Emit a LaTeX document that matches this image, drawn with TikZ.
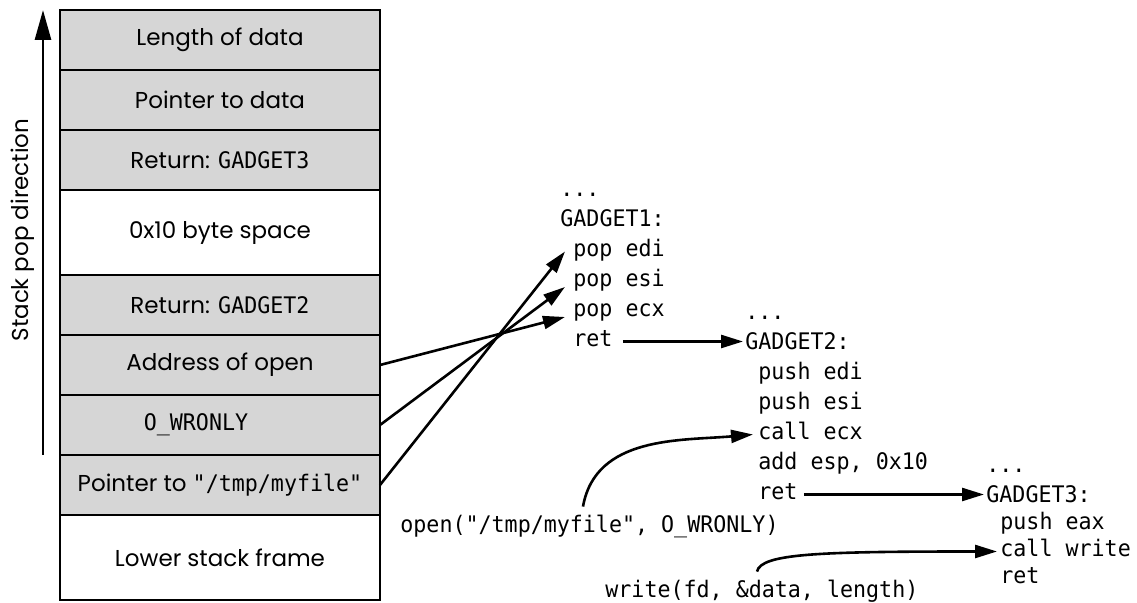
\documentclass[tikz,border=0pt]{standalone}
\usepackage{fontspec}
\usepackage{xcolor}
\usepackage{tikz}
\usetikzlibrary{arrows.meta, positioning}
\newfontfamily\geofam{Poppins}
\newfontfamily\monofam[FakeStretch=0.95]{DejaVu Sans Mono}
\newcommand{\rowfnt}{\geofam\fontsize{11.5}{13}\selectfont}
\newcommand{\codefnt}{\monofam\fontsize{11.4}{13}\selectfont}
\definecolor{cellgray}{gray}{0.84}

\begin{document}
\begin{tikzpicture}[
      x=0.5pt, y=-0.5pt,
      cell/.style={draw, line width=1.4pt, fill=cellgray, minimum width=160pt,
                   minimum height=30pt, inner sep=0pt, outer sep=0pt, font=\rowfnt},
      tallcell/.style={cell, minimum height=42.5pt},
      blank/.style={fill=white},
      code/.style={font=\codefnt, anchor=base west, inner sep=0pt,
                   text height=8pt, text depth=2.5pt},
      arr/.style={-{Triangle[length=11pt, width=6.5pt]}, line width=1.3pt},
      bigarr/.style={-{Triangle[length=15pt, width=8pt]}, line width=1.4pt}
    ]
    \useasboundingbox (0,0) rectangle (1137,603);

    % the stack
    \node[cell, anchor=north west] (len) at (60,10) {Length of data};
    \node[cell, below=0pt of len] (ptr) {Pointer to data};
    \node[cell, below=0pt of ptr] (retg3) {Return: {\codefnt GADGET3}};
    \node[tallcell, blank, below=0pt of retg3] (space) {0x10 byte space};
    \node[cell, below=0pt of space] (retg2) {Return: {\codefnt GADGET2}};
    \node[cell, below=0pt of retg2] (openaddr) {Address of open};
    \node[cell, below=0pt of openaddr] (flags) {{\codefnt O\_WRONLY}\kern24pt};
    \node[cell, below=0pt of flags] (path) {Pointer to {\codefnt "/tmp/myfile"}};
    \node[tallcell, blank, below=0pt of path] (lower) {Lower stack frame};

    \coordinate (popbot) at (43,455);
    \coordinate (poptop) at (43,10);
    \draw[bigarr] (popbot) -- (poptop);
    \node[rotate=90, anchor=base, font=\rowfnt] (poplabel) at (28,230) {Stack pop direction};

    % GADGET1
    \node[code] (dots1) at (560,197) {...};
    \node[code] (g1)    at (560,227) {GADGET1:};
    \node[code] (popedi) at (573,257) {pop edi};
    \node[code] (popesi) at (573,287) {pop esi};
    \node[code] (popecx) at (573,317) {pop ecx};
    \node[code] (retA)   at (573,347) {ret};

    % GADGET2
    \node[code] (dots2)   at (745,320) {...};
    \node[code] (g2)      at (745,350) {GADGET2:};
    \node[code] (pushedi) at (758,380) {push edi};
    \node[code] (pushesi) at (758,410) {push esi};
    \node[code] (callecx) at (758,440) {call ecx};
    \node[code] (addesp)  at (758,470) {add esp, 0x10};
    \node[code] (retB)    at (758,500) {ret};

    % GADGET3
    \node[code] (dots3)     at (986,473) {...};
    \node[code] (g3)        at (986,503) {GADGET3:};
    \node[code] (pusheax)   at (1000,530) {push eax};
    \node[code] (callwrite) at (1000,557) {call write};
    \node[code] (retC)      at (1000,584) {ret};

    \node[code] (opencall)  at (400,533) {open("/tmp/myfile", O\_WRONLY)};
    \node[code] (writecall) at (605,598) {write(fd, \&data, length)};

    % stack slots into GADGET1
    \draw[arr] (openaddr.east) -- ([xshift=-4pt]popecx.base west);
    \draw[arr] (flags.east) -- ([xshift=-4pt]popesi.base west);
    \draw[arr] (path.east) -- ([xshift=-4pt]popedi.west);

    % ret chains
    \draw[arr] ([xshift=5pt]retA.east) -- ([xshift=-1pt]retA.east -| g2.west);
    \draw[arr] ([xshift=3pt]retB.east) -- ([xshift=-1pt]retB.east -| g3.west);

    % calls
    \draw[arr] ([xshift=91.5pt, yshift=5pt]opencall.north west)
      to[out=80, in=185] ([xshift=-2.5pt]callecx.west);
    \draw[arr] ([xshift=76pt, yshift=5pt]writecall.north west)
      .. controls +(2pt,9pt) and +(-90pt,0pt) .. ([xshift=-1.5pt]callwrite.west);
\end{tikzpicture}
\end{document}
